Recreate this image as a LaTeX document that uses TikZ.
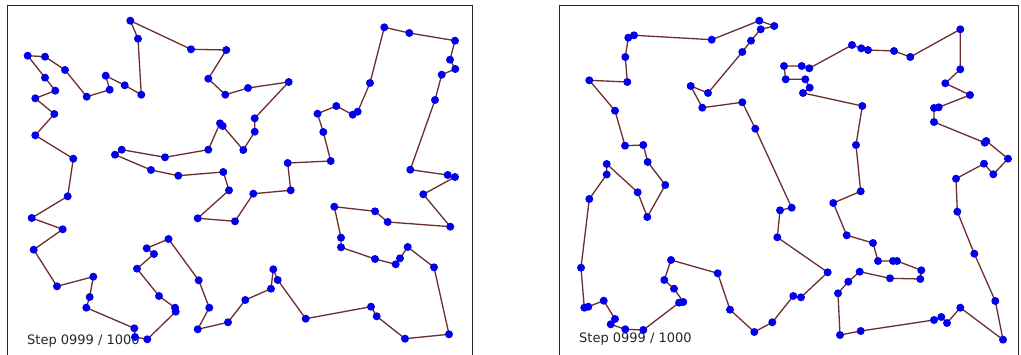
\documentclass[tikz,border=0pt]{standalone}
\usepackage{fontspec}
\setmainfont{DejaVu Sans}
\definecolor{edgecol}{RGB}{110,45,45}
\definecolor{citycol}{RGB}{0,0,235}
\begin{document}
\begin{tikzpicture}[x=1pt,y=-1pt,
  tour/.style={draw=edgecol,line width=1.3pt,line join=round},
  city/.style={fill=citycol},
  panel/.style={draw=black!85,line width=0.9pt},
  steplabel/.style={anchor=base west,inner sep=0pt,font=\fontsize{13}{15}\selectfont,text=black!85}]
\useasboundingbox (0,0) rectangle (1021,355);
\fill[white] (0,0) rectangle (1021,355);
% panels (bottom edge lies below the visible area)
\draw[panel] (7,5) rectangle (472,362);
\draw[panel] (559,5) rectangle (1018,362);
% labels
\node[steplabel] (labL) at (27,345) {Step 0999 / 1000};
\node[steplabel] (labR) at (579,343) {Step 0999 / 1000};
% left tour
\def\leftTour{138/38.7, 141.3/94.7, 124.7/85.3, 105.7/75.7, 109.7/89.7, 86.7/96.7, 65/70, 45/56.7, 27.7/55.7, 45/77.7, 55.3/90.7, 35.3/98.3, 54.3/114, 35.3/135.3, 73.3/158.7, 67.7/196.3, 31.7/218, 62.7/229.3, 33.7/249.7, 57/286.3, 93.3/276.7, 89.7/297, 86.3/307.7, 134.3/328.3, 135/337, 147.3/339.3, 175.7/311.7, 175/307.7, 159/296, 137/268.7, 154/254, 146.7/248.3, 168.5/239, 198.7/280.3, 209.3/307.7, 197.7/329.3, 228/322.3, 245.3/300, 271/288.7, 273.3/269.3, 277.7/280, 305.7/318.7, 371/306.7, 376.7/316.3, 405/338.7, 449/334.3, 434/267.3, 407.7/247, 400/258.3, 395.7/264.3, 375/259, 341/247.3, 341/237.7, 334.3/206.7, 375/211.3, 387.7/222, 450.3/226.7, 423.3/194.3, 455/177, 447.7/175, 410.3/169.7, 435/100, 441.7/74.7, 455.3/69, 450/59.7, 455/40.7, 409.3/33, 384.3/27.3, 370/83, 357.7/111.7, 352.7/114.7, 336.3/106, 317.5/113.7, 323.3/132, 330.7/161, 287.7/163, 290.7/190.3, 253.3/193.7, 235/221.3, 197.7/218.3, 229/190.3, 223.3/172, 178.3/175.7, 151/170, 115/154.7, 121.7/149.7, 165/157.3, 208.3/149.7, 220/123.3, 222.7/126, 243.3/150, 254.7/131.7, 254.7/118.3, 288.7/82, 248/88, 225.3/94.7, 208.3/78.7, 226.3/50, 191/49.3}
\draw[tour] (130.3,20.7) foreach \x/\y in \leftTour { -- (\x,\y)} -- cycle;
% right tour, first loop
\def\rightTourA{628.3/37.7, 625.3/57, 627.3/82, 589.3/80.3, 615/110.7, 625/145.7, 643.3/145, 647.7/162, 665.3/185, 647.3/217, 637.7/192.3, 606.7/164, 606.7/174.5, 589.3/199, 581/267.7, 584.3/307.7, 588.3/306.7, 603.7/300.7, 615/319, 610.7/324.3, 625.3/329.3, 643.3/330, 679/302.7, 683.3/302, 674/288.7, 664.3/280, 671/260, 717.7/273.3, 730/309.7, 754.3/332, 772.3/322.3, 793.3/296, 801/297.3, 827.7/272.3, 777.3/237.3, 780/210.3, 791.7/207.7, 755.3/128.7, 742.3/102.3, 702.3/107.7, 690.7/86, 708/93, 742.3/52, 751/40.7, 760.7/29.3, 774.3/26, 759.3/20.7, 711.7/39.7}
\draw[tour] (634,35.3) foreach \x/\y in \rightTourA { -- (\x,\y)} -- cycle;
% right tour, second loop
\def\rightTourB{801.7/66, 809.3/68.3, 852/45, 861.3/48.3, 868/50, 894/51, 910.3/57, 960.3/29.3, 960.3/69.3, 945.3/83.3, 970/95, 938.7/107.3, 934/108, 934/122, 984.7/142.7, 986.3/141, 1008/158.7, 993.3/174.3, 984/163.7, 956/178.7, 957.3/211.7, 974.3/253.7, 995.3/301, 1003/339.7, 960.3/307.7, 947/323, 941.3/317, 934/320, 860.7/331, 840/335, 838/293.3, 848.3/281.7, 859.7/271.7, 890/278.3, 920.3/279, 921.3/270.3, 897/261, 893/261, 878/261, 873/243, 846.7/235.3, 833.3/203, 860.7/191.3, 856/145, 862.3/106, 803/93, 809.7/87.7, 805.3/79.3, 785.7/79.3}
\draw[tour] (784,66) foreach \x/\y in \rightTourB { -- (\x,\y)} -- cycle;
% cities
\foreach \x/\y in \leftTour {\fill[city] (\x,\y) circle (4);}
\fill[city] (130.3,20.7) circle (4);
\foreach \x/\y in \rightTourA {\fill[city] (\x,\y) circle (4);}
\fill[city] (634,35.3) circle (4);
\foreach \x/\y in \rightTourB {\fill[city] (\x,\y) circle (4);}
\fill[city] (784,66) circle (4);
\end{tikzpicture}
\end{document}
